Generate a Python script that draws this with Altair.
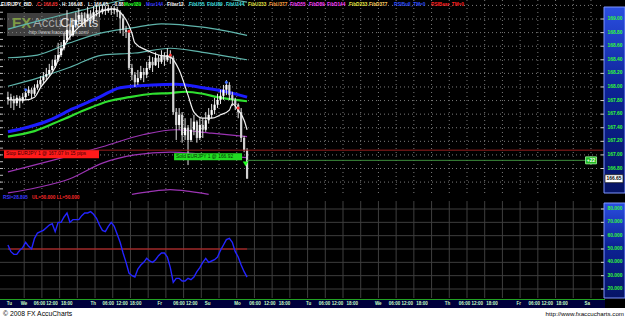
import altair as alt
import pandas as pd

FONT = "Liberation Sans"

# ---------------- data ----------------
bars = list(range(82))
close = [167.85,167.81,167.76,167.84,167.79,167.85,167.91,167.96,167.90,167.99,
         168.04,168.10,168.15,168.19,168.25,168.31,168.40,168.47,168.57,168.69,
         168.84,168.76,168.91,168.99,169.06,168.96,169.01,169.07,168.99,169.10,
         169.13,169.10,169.15,169.12,169.16,169.13,169.15,169.10,169.01,168.84,
         168.81,168.28,168.18,168.07,168.13,168.22,168.18,168.28,168.37,168.32,
         168.43,168.37,168.46,168.40,168.47,168.43,167.63,167.44,167.59,167.29,
         167.40,167.22,167.37,167.49,167.25,167.44,167.37,167.51,167.59,167.66,
         167.74,167.81,167.87,167.96,168.03,167.88,167.81,167.74,167.63,167.25,
         167.07,166.65]
high = [167.93,167.90,167.87,167.88,167.87,167.91,167.97,168.01,167.99,168.04,
        168.10,168.16,168.22,168.28,168.34,168.40,168.47,168.65,168.66,168.79,
        169.13,168.93,169.01,169.10,169.16,169.10,169.10,169.18,169.13,169.19,
        169.21,169.19,169.21,169.19,169.21,169.19,169.19,169.18,169.13,169.07,
        168.90,168.84,168.34,168.22,168.25,168.31,168.28,168.37,168.46,168.44,
        168.51,168.47,168.54,168.51,168.57,168.54,168.46,167.69,167.69,167.63,
        167.54,167.44,167.54,167.59,167.51,167.54,167.54,167.63,167.69,167.75,
        167.84,167.90,167.96,168.03,168.10,168.07,167.93,167.84,167.76,167.69,
        167.28,167.10]
low = [167.74,167.69,167.66,167.72,167.69,167.76,167.81,167.87,167.82,167.87,
       167.96,168.00,168.04,168.10,168.16,168.22,168.28,168.37,168.44,168.54,
       168.66,168.69,168.74,168.87,168.93,168.90,168.91,168.96,168.93,168.96,
       169.04,169.03,169.07,169.06,169.09,169.06,169.07,169.03,168.79,168.75,
       168.72,168.25,168.10,168.00,168.03,168.10,168.07,168.13,168.25,168.22,
       168.31,168.28,168.34,168.31,168.37,168.34,167.59,167.22,167.37,167.18,
       167.22,166.85,167.19,167.29,167.18,167.22,167.25,167.34,167.46,167.54,
       167.60,167.69,167.75,167.81,167.88,167.81,167.72,167.66,167.54,167.19,
       167.04,166.65]
first_open = 167.82

rsi = [53,48,46,46,49,51,55,52,50,58,
       62,63,64,66,68,69,63,70,70,74,
       77,70,72,72,72,75,77,77,78,76,
       73,68,64,63,67,70,67,61,55,47,
       40,32,30,29,35,38,40,43,41,40,
       42,45,47,47,44,36,25,28,28,26,
       26,28,27,29,33,36,40,43,40,41,
       42,44,49,53,57,58,55,48,44,38,
       33,28.895]

mov144_bars = [0,7,14,22,31,38,49,57,66,74,81]
mov144_vals = [167.34,167.41,167.51,167.68,167.85,167.99,168.03,168.04,167.99,167.93,167.85]
mov089_bars = [0,9,18,26,34,41,49,55,60,66,71,81]
mov089_vals = [167.27,167.35,167.51,167.66,167.79,167.85,167.90,167.91,167.93,167.90,167.85,167.79]
filter_bars = [0,6,9,11,16,18,21,24,27,30,32,36,38,40,42,43,47,51,55,58,61,63,66,69,72,75,76,78,80,81]
filter_vals = [167.81,167.81,167.85,167.99,168.29,168.51,168.74,168.88,168.99,169.07,
               169.12,169.15,169.10,168.99,168.79,168.65,168.54,168.47,168.44,168.25,
               167.88,167.63,167.54,167.54,167.59,167.66,167.75,167.66,167.51,167.37]
fibu1_bars = [0,12,25,36,46,56,66,81]
fibu1_vals = [168.85,168.99,169.13,169.25,169.34,169.37,169.34,169.25]
fibu2_bars = [0,10,21,31,42,52,66,81]
fibu2_vals = [168.43,168.47,168.65,168.79,168.87,168.93,168.88,168.76]
fibu3_bars = [0,10,21,32,43,55,66,81]
fibu3_vals = [168.01,168.13,168.29,168.47,168.50,168.57,168.51,168.40]
fibd1_bars = [0,16,32,46,57,69,81]
fibd1_vals = [166.75,166.93,167.12,167.30,167.37,167.32,167.27]
fibd2_bars = [0,10,21,32,43,55,66,81]
fibd2_vals = [166.44,166.52,166.65,166.88,167.00,167.04,167.01,166.96]
fibd3_bars = [42,48,55,62,68]
fibd3_vals = [166.42,166.46,166.49,166.46,166.42]

red_dot_bars = [41, 55, 78]
red_dot_vals = [168.82, 168.47, 167.69]
blue_dot_bars = [6, 74]
blue_dot_vals = [167.96, 168.07]

stop_price = 167.07
entry_price = 166.92
entry_bar = 81
entry_end_bar = 196
stop_text = "Stop EURJPY 1 @ 167.07 In 15 pips"
sold_text = "Sold EURJPY 1 @ 166.92"
pips_text = "+22"
last_price = 166.65

price_labels = [169.00,168.80,168.60,168.40,168.20,168.00,167.80,167.60,167.40,167.20,167.00,166.80]
rsi_labels = [80,70,60,50,40,30,20]
rsi_level = 50

time_labels = ["Tu","We","06:00","12:00","18:00","Th","06:00","12:00","18:00","Fr","06:00","12:00",
               "Su","Mo","06:00","12:00","18:00","Tu","06:00","12:00","18:00","We","06:00","12:00",
               "18:00","Th","06:00","12:00","18:00","Fr","06:00","12:00","18:00","Sa"]
time_pos = [-0.4,4.3,8.7,13.0,18.0,28.0,32.0,36.7,41.3,50.7,56.0,60.3,66.7,76.7,81.7,86.7,91.7,
            101.0,105.3,109.7,114.7,124.3,129.0,133.3,138.3,148.0,152.7,157.0,162.0,172.3,176.3,
            180.7,185.7,195.3]

header_tokens = ["EUR/JPY_BID","C: 166.65","H: 166.98","L: 166.65","-0.88","Mov089","Mov144",
                 "Filter12","FibU55","FibU89","FibU144","FibU233","FibU377","FibD55","FibD89",
                 "FibD144","FibD233","FibD377","RSIBull_TM=0","RSIBear_TM=0"]
header_colors = ["#ffffff","#ff3030","#ffffff","#ffffff","#ffffff","#20ff20","#3535ff",
                 "#ffffff","#40e0e0","#40e0e0","#40e0e0","#e0e040","#ffa040","#ff40ff","#ff40ff",
                 "#ff40ff","#e8e840","#ffd060","#3050ff","#ff2020"]
header_x = [1,37,62,88,113,124,146,167,189,207,226,248,269,290,309,327,349,369,394,431]

# ---------------- scales ----------------
XDOM = [-1, 207.3333]


def xq(field):
    return alt.X(f"{field}:Q", scale=alt.Scale(domain=XDOM, nice=False, zero=False), axis=None)


def ym(field):
    return alt.Y(f"{field}:Q", scale=alt.Scale(domain=[166.41, 169.28], range=[195, 0],
                                                nice=False, zero=False), axis=None)


def yr(field):
    return alt.Y(f"{field}:Q", scale=alt.Scale(domain=[20, 80], range=[289, 209],
                                                nice=False, zero=False), axis=None)


one = pd.DataFrame({"a": [0]})


def box(x1, x2, y1, y2, **kw):
    return alt.Chart(one).mark_rect(**kw).encode(
        x=alt.value(x1), x2=alt.value(x2), y=alt.value(y1), y2=alt.value(y2))


def label(text, x, y, color, size=4.7, align="left", bold=True, font=FONT):
    return alt.Chart(pd.DataFrame({"t": [text]})).mark_text(
        align=align, baseline="middle", color=color, fontSize=size, font=font,
        fontWeight="bold" if bold else "normal").encode(
        x=alt.value(x), y=alt.value(y), text="t:N")


def line(bs, vs, color, width):
    df = pd.DataFrame({"bar": bs, "v": vs})
    return alt.Chart(df).mark_line(color=color, strokeWidth=width, interpolate="monotone").encode(
        x=xq("bar"), y=ym("v"))


layers = []

# grids
grid_bars = [5.5 + 6 * k for k in range(33)]
gdf = pd.DataFrame({"g": grid_bars})
layers.append(alt.Chart(gdf).mark_rule(color="#7a7a7a", strokeDash=[1, 3], strokeWidth=1).encode(
    x=xq("g"), y=alt.value(0), y2=alt.value(195)))
hp = pd.DataFrame({"p": [166.6 + 0.2 * k for k in range(14)]})
layers.append(alt.Chart(hp).mark_rule(color="#7a7a7a", strokeDash=[1, 3], strokeWidth=1).encode(
    y=ym("p"), x=alt.value(0), x2=alt.value(603)))
# left edge ticks
lt = pd.DataFrame({"p": [166.5 + 0.1 * k for k in range(28)]})
layers.append(alt.Chart(lt).mark_rule(color="#bbbbbb", strokeWidth=1).encode(
    y=ym("p"), x=alt.value(0), x2=alt.value(3)))
# rsi grid
layers.append(alt.Chart(gdf).mark_rule(color="#3e3e3e", strokeWidth=1).encode(
    x=xq("g"), y=alt.value(201), y2=alt.value(298)))
rg = pd.DataFrame({"r": rsi_labels})
layers.append(alt.Chart(rg).mark_rule(color="#3e3e3e", strokeWidth=1).encode(
    y=yr("r"), x=alt.value(0), x2=alt.value(603)))

# watermark
layers.append(box(7, 100, 13, 36, color="#8a8a8a", opacity=0.45))
layers.append(label("FX", 12, 23, "#7f9a45", size=15, font="Liberation Sans"))
layers.append(label("Accu", 33, 23, "#a4a4a4", size=13, bold=False))
layers.append(label("Charts", 60, 23, "#dcdcdc", size=13, bold=False))
layers.append(label("http://www.fxaccucharts.com/", 29, 32.5, "#d0d0d0", size=4.6, bold=False))

# fib bands and MAs
for bs, vs in [(fibu1_bars, fibu1_vals), (fibu2_bars, fibu2_vals), (fibu3_bars, fibu3_vals)]:
    layers.append(line(bs, vs, "#5fb4ab", 1.2))
for bs, vs in [(fibd1_bars, fibd1_vals), (fibd2_bars, fibd2_vals), (fibd3_bars, fibd3_vals)]:
    layers.append(line(bs, vs, "#9c34b4", 1.2))
layers.append(line(mov089_bars, mov089_vals, "#30e030", 2.2))
layers.append(line(mov144_bars, mov144_vals, "#1c1cff", 3))

# candles
opens = [first_open] + close[:-1]
cdf = pd.DataFrame({"bar": bars, "open": opens, "close": close})
cdf["high"] = [max(h, o, c) for h, o, c in zip(high, opens, close)]
cdf["low"] = [min(l, o, c) for l, o, c in zip(low, opens, close)]
cdf["dir"] = ["up" if c >= o else "down" for o, c in zip(opens, close)]
layers.append(alt.Chart(cdf).mark_rule(color="#e6e6e6", strokeWidth=1).encode(
    x=xq("bar"), y=ym("low"), y2="high:Q"))
layers.append(alt.Chart(cdf).mark_bar(size=2.2).encode(
    x=xq("bar"), y=ym("open"), y2="close:Q",
    color=alt.Color("dir:N", scale=alt.Scale(domain=["up", "down"], range=["#ffffff", "#d2d2d2"]),
                    legend=None)))

layers.append(line(filter_bars, filter_vals, "#f2f2f2", 1.2))

layers.append(alt.Chart(pd.DataFrame({"bar": red_dot_bars, "v": red_dot_vals})).mark_point(
    shape="circle", filled=True, color="#ff3030", size=9, opacity=1).encode(x=xq("bar"), y=ym("v")))
layers.append(alt.Chart(pd.DataFrame({"bar": blue_dot_bars, "v": blue_dot_vals})).mark_point(
    shape="circle", filled=True, color="#4070ff", size=9, opacity=1).encode(x=xq("bar"), y=ym("v")))

# stop order
sdf = pd.DataFrame({"p": [stop_price], "t": [stop_text]})
layers.append(alt.Chart(sdf).mark_rule(color="#9a1e1e", strokeWidth=1).encode(
    y=ym("p"), x=alt.value(0), x2=alt.value(603)))
layers.append(alt.Chart(sdf).mark_rect(color="#ff1a1a", yOffset=0, y2Offset=8).encode(
    y=ym("p"), y2="p:Q", x=alt.value(4), x2=alt.value(99)))
layers.append(alt.Chart(sdf).mark_text(align="left", baseline="middle", color="#3a0000", fontSize=4.9,
                                       font=FONT, dy=4.2).encode(
    y=ym("p"), x=alt.value(6), text="t:N"))

# entry
edf = pd.DataFrame({"p": [entry_price], "b0": [entry_bar], "b1": [entry_end_bar], "bt": [entry_bar - 0.5],
                    "t": [sold_text], "pp": [pips_text]})
layers.append(alt.Chart(edf).mark_rule(color="#3c8c3c", strokeWidth=1).encode(
    x=xq("b0"), x2="b1:Q", y=ym("p")))
layers.append(alt.Chart(edf).mark_rect(color="#22dd22", xOffset=-73, x2Offset=-5, yOffset=-7, y2Offset=0).encode(
    x=xq("b0"), x2="b0:Q", y=ym("p"), y2="p:Q"))
layers.append(alt.Chart(edf).mark_text(align="left", baseline="middle", color="#063006", fontSize=4.9,
                                       font=FONT, dx=-71, dy=-3.5).encode(
    x=xq("b0"), y=ym("p"), text="t:N"))
layers.append(alt.Chart(edf).mark_point(shape="triangle-down", filled=True, color="#22ff22", size=32,
                                        opacity=1, yOffset=3.5).encode(x=xq("bt"), y=ym("p")))
layers.append(alt.Chart(edf).mark_rect(color="#1fb81f", stroke="#a0ffa0", strokeWidth=0.8,
                                       xOffset=-1, x2Offset=10, yOffset=-3.5, y2Offset=3.5).encode(
    x=xq("b1"), x2="b1:Q", y=ym("p"), y2="p:Q"))
layers.append(alt.Chart(edf).mark_text(align="center", baseline="middle", color="#ffffff", fontSize=5,
                                       font=FONT, fontWeight="bold", dx=4.5).encode(
    x=xq("b1"), y=ym("p"), text="pp:N"))

# RSI
rdf = pd.DataFrame({"bar": bars, "rsi": rsi})
layers.append(alt.Chart(pd.DataFrame({"r": [rsi_level], "b0": [0], "b1": [81]})).mark_rule(
    color="#d02020", strokeWidth=1).encode(x=xq("b0"), x2="b1:Q", y=yr("r")))
layers.append(alt.Chart(rdf).mark_line(color="#2424ff", strokeWidth=1.4).encode(x=xq("bar"), y=yr("rsi")))
layers.append(label("RSI=28.895", 3, 198, "#3a3aff"))
layers.append(label("UL=50.000 LL=50.000", 32, 198, "#ff2a2a"))

# header
for t, c, x in zip(header_tokens, header_colors, header_x):
    layers.append(label(t, x, 4.5, c))

# right axis panels
grad = alt.LinearGradient(gradient="linear", x1=0, x2=0, y1=0, y2=1,
                          stops=[alt.GradientStop(color="#2a4ee0", offset=0),
                                 alt.GradientStop(color="#0c2294", offset=0.45),
                                 alt.GradientStop(color="#061466", offset=1)])
layers.append(box(604, 625, 7, 193, color=grad, stroke="#7c94ff", strokeWidth=1))
layers.append(box(604, 625, 203, 298, color=grad, stroke="#7c94ff", strokeWidth=1))

pl = pd.DataFrame({"p": price_labels, "t": [f"{v:.2f}" for v in price_labels]})
layers.append(alt.Chart(pl).mark_rule(color="#d0d0d0", strokeWidth=1).encode(
    y=ym("p"), x=alt.value(601), x2=alt.value(604)))
layers.append(alt.Chart(pl).mark_text(align="center", baseline="middle", color="#33ff33", fontSize=4.9,
                                      font=FONT, fontWeight="bold").encode(
    y=ym("p"), x=alt.value(615), text="t:N"))
lp = pd.DataFrame({"p": [last_price], "t": [f"{last_price:.2f}"]})
layers.append(alt.Chart(lp).mark_rect(color="#ffffff", stroke="#202020", strokeWidth=0.8,
                                      yOffset=-4, y2Offset=4).encode(
    y=ym("p"), y2="p:Q", x=alt.value(605), x2=alt.value(623)))
layers.append(alt.Chart(lp).mark_text(align="center", baseline="middle", color="#000000", fontSize=4.9,
                                      font=FONT, fontWeight="bold").encode(
    y=ym("p"), x=alt.value(614), text="t:N"))

rl = pd.DataFrame({"r": rsi_labels, "t": [f"{v:.3f}" for v in rsi_labels]})
layers.append(alt.Chart(rl).mark_rule(color="#d0d0d0", strokeWidth=1).encode(
    y=yr("r"), x=alt.value(601), x2=alt.value(604)))
layers.append(alt.Chart(rl).mark_text(align="center", baseline="middle", color="#33ff33", fontSize=4.9,
                                      font=FONT, fontWeight="bold").encode(
    y=yr("r"), x=alt.value(615), text="t:N"))

# time bar
layers.append(box(0, 605, 299, 308, color="#00003c"))
layers.append(alt.Chart(one).mark_rule(color="#22a022", strokeWidth=1).encode(
    x=alt.value(0), x2=alt.value(605), y=alt.value(299.5)))
tl = pd.DataFrame({"pos": time_pos, "t": time_labels})
layers.append(alt.Chart(tl).mark_text(align="left", baseline="middle", color="#c8ffc8", fontSize=4.5,
                                      font=FONT, fontWeight="bold").encode(
    x=xq("pos"), y=alt.value(304), text="t:N"))

# footer
layers.append(box(0, 625, 308, 318, color="#ffffff"))
layers.append(label("\u00a9 2008 FX AccuCharts", 3, 313.5, "#000000", size=6.8, bold=False))
layers.append(label("http://www.fxaccucharts.com", 624, 313.5, "#000000", size=6.2, align="right", bold=False))

chart = alt.layer(*layers).resolve_scale(y="independent").properties(
    width=625, height=318, padding=0, autosize=alt.AutoSizeParams(type="none")
).configure(background="#000000").configure_view(strokeWidth=0)

chart.save("out.html", embed_options={"renderer": "svg", "actions": False})
